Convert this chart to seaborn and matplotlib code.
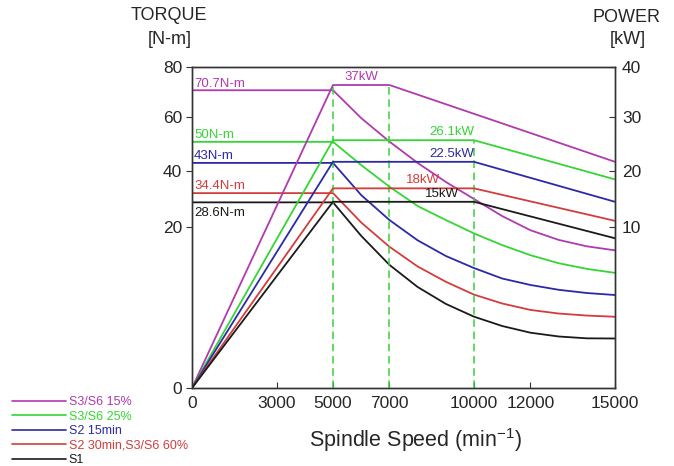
import numpy as np
import matplotlib as mpl
import matplotlib.pyplot as plt
import seaborn as sns
from matplotlib.lines import Line2D

sns.set_style("ticks")
mpl.rcParams["font.family"] = ["Liberation Sans", "DejaVu Sans"]
mpl.rcParams["mathtext.default"] = "regular"

# duty types, one colour each
series = ["S3/S6 15%", "S3/S6 25%", "S2 15min", "S2 30min,S3/S6 60%", "S1"]
colors = ["#b03ab0", "#33d633", "#2a2aa8", "#d43c3c", "#1a1a1a"]

# torque [N-m] vs spindle speed [min^-1]
speed_steps = [0, 5000, 6000, 7000, 8000, 9000, 10000, 11000, 12000, 13000,
               14000, 15000]
torque_s3_15 = [70.7, 70.7, 59.6, 50.9, 43.0, 36.1, 30.0, 23.9, 19.6, 18.4,
                17.6, 17.1]
torque_s3_25 = [50.8, 50.8, 42.2, 34.4, 27.5, 22.5, 19.2, 17.75, 16.5, 15.5,
                14.8, 14.3]
torque_s2_15 = [43.0, 43.0, 31.4, 22.5, 18.35, 16.4, 14.9, 13.6, 12.8, 12.2,
                11.8, 11.55]
torque_s2_30 = [32.1, 32.1, 21.6, 17.55, 15.1, 13.2, 11.6, 10.5, 9.7, 9.25,
                9.0, 8.85]
torque_s1 = [28.8, 28.8, 18.9, 15.3, 12.55, 10.45, 8.86, 7.7, 6.87, 6.4,
             6.17, 6.15]
torque = [torque_s3_15, torque_s3_25, torque_s2_15, torque_s2_30, torque_s1]

# power [kW] vs spindle speed
power_speed = [
    [0, 5000, 7000, 15000],
    [0, 5000, 10000, 15000],
    [0, 5000, 10000, 15000],
    [0, 5000, 10000, 15000],
    [0, 5000, 10000, 15000],
]
power = [
    [0, 36.4, 36.4, 21.7],
    [0, 25.7, 25.7, 18.5],
    [0, 21.7, 21.7, 14.5],
    [0, 16.9, 16.9, 11.1],
    [0, 14.5, 14.5, 9.3],
]

torque_labels = ["70.7N-m", "50N-m", "43N-m", "34.4N-m", "28.6N-m"]
power_labels = ["37kW", "26.1kW", "22.5kW", "18kW", "15kW"]
power_label_x = [6000, 10000, 10000, 8800, 9450]

speed_ticks = [0, 3000, 5000, 7000, 10000, 12000, 15000]
torque_ticks = [0, 20, 40, 60, 80]
power_ticks = [0, 10, 20, 30, 40]

# the original chart has uneven vertical tick spacing (0-20 is stretched)
tick_pos = [0, 161, 217, 271, 321]


def tq_fwd(v):
    return np.interp(v, torque_ticks, tick_pos)


def tq_inv(p):
    return np.interp(p, tick_pos, torque_ticks)


def pw_fwd(v):
    return np.interp(v, power_ticks, tick_pos)


def pw_inv(p):
    return np.interp(p, tick_pos, power_ticks)


W, H = 674, 466
fig = plt.figure(figsize=(W / 100, H / 100), dpi=100)
ax = fig.add_axes([192 / W, (H - 388) / H, (615 - 192) / W, (388 - 67) / H])
ax2 = ax.twinx()

ax.set_yscale("function", functions=(tq_fwd, tq_inv))
ax2.set_yscale("function", functions=(pw_fwd, pw_inv))

for i in range(len(series)):
    sns.lineplot(x=speed_steps, y=torque[i], ax=ax, color=colors[i],
                 lw=1.3, sort=False, estimator=None)
    sns.lineplot(x=power_speed[i], y=power[i], ax=ax2, color=colors[i],
                 lw=1.3, sort=False, estimator=None)

# dashed guides at the corner speeds
guide_x = [power_speed[0][1], power_speed[0][2], power_speed[1][2]]
guide_top = [power[0][1], power[0][2], power[1][2]]
for gx, gt in zip(guide_x, guide_top):
    ax2.plot([gx, gx], [0, gt], color="#3ccf3c", lw=1.1, ls=(0, (5, 3)),
             zorder=1)

# rated values
for i, lbl in enumerate(torque_labels):
    below = i == len(torque_labels) - 1
    ax.annotate(lbl, xy=(0, torque[i][0]), xytext=(1.5, -3 if below else 0.5),
                textcoords="offset points", ha="left",
                va="top" if below else "bottom", color=colors[i],
                fontsize=9.5, annotation_clip=False)
for i, lbl in enumerate(power_labels):
    ax2.annotate(lbl, xy=(power_label_x[i], power[i][1]), xytext=(0, 1.5),
                 textcoords="offset points",
                 ha="center" if i == 0 else "right", va="bottom",
                 color=colors[i], fontsize=9.5)

ax.set_xlim(0, 15000)
ax.set_ylim(0, 80)
ax2.set_ylim(0, 40)
ax.set_xticks(speed_ticks)
ax.set_xticklabels([str(s) for s in speed_ticks])
ax.set_yticks(torque_ticks)
ax.set_yticklabels([str(t) for t in torque_ticks])
ax2.set_yticks(power_ticks[1:])
ax2.set_yticklabels([str(t) for t in power_ticks[1:]])
ax.set_xlabel("")
ax.set_ylabel("")
ax2.set_ylabel("")

ax.tick_params(axis="x", direction="in", length=4, labelsize=12.5, pad=6,
               top=False, color="#333333")
ax.tick_params(axis="y", direction="out", length=4, labelsize=12.5, pad=3,
               color="#333333")
ax2.tick_params(axis="y", direction="in", length=4, labelsize=12.5, pad=5,
                color="#333333")
for a in (ax, ax2):
    for sp in a.spines.values():
        sp.set_visible(True)
        sp.set_color("#333333")
        sp.set_linewidth(1.0)

fig.text(169 / W, 1 - 16 / H, "TORQUE", ha="center", va="center", fontsize=13)
fig.text(170 / W, 1 - 40 / H, "[N-m]", ha="center", va="center", fontsize=13)
fig.text(627 / W, 1 - 17 / H, "POWER", ha="center", va="center", fontsize=13)
fig.text(628 / W, 1 - 40 / H, "[kW]", ha="center", va="center", fontsize=13)
fig.text(416 / W, 1 - 440 / H, "Spindle Speed (min$^{-1}$)", ha="center",
         va="center", fontsize=15.5)

handles = [Line2D([], [], color=c, lw=1.2) for c in colors]
fig.legend(handles, series, loc="upper left",
           bbox_to_anchor=(12 / W, 1 - 396 / H), frameon=False, fontsize=9,
           handlelength=4.3, handletextpad=0.25, labelspacing=0.2,
           borderpad=0, borderaxespad=0, labelcolor="linecolor")

fig.savefig("out.png", dpi=100)
